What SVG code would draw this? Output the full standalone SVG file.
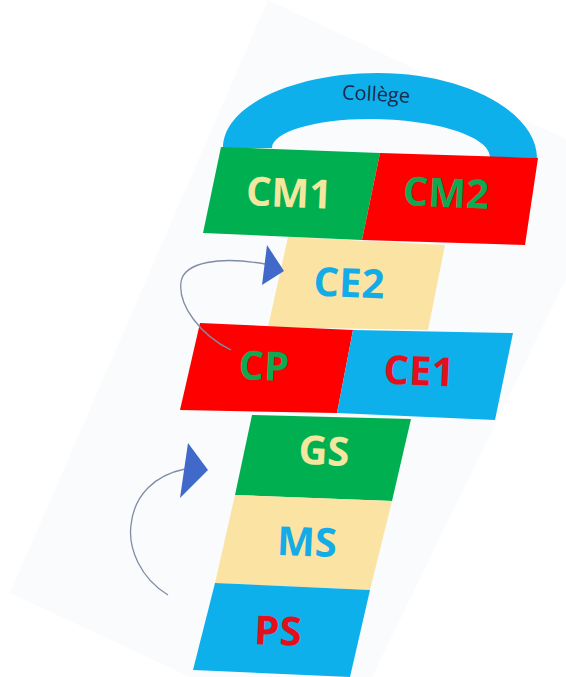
<svg xmlns="http://www.w3.org/2000/svg" width="566" height="677" viewBox="0 0 566 677">
<style>
.lbl{font-family:"Open Sans","Noto Sans","Liberation Sans",sans-serif;font-weight:700;font-size:40px;text-anchor:middle}
.green{fill:#00B050}.red{fill:#FF0000}.tan{fill:#FBE3A4}.blue{fill:#0EB0EC}
.t-tan{fill:#F3E7A0}.t-green{fill:#10A850}.t-blue{fill:#14ACE6}.t-red{fill:#E3101C}
.conn{fill:none;stroke:#7F8CA8;stroke-width:1.3}
.head{fill:#4169C9}
</style>
<rect width="566" height="677" fill="#ffffff"/>
<polygon points="268,0 566,139 566,279 372,677 190,677 10,593" fill="#fafbfc"/>
<g id="college">
<path class="blue" d="M223,148 C223,106 293,73 378,73 C465,73 537,112 537,158 L490,157 C490,137 437,119 369,119 C315,119 272,132 272,148 Z"/>
<text x="376" y="101" transform="rotate(3 376 95)" font-family="'Open Sans','Noto Sans','Liberation Sans',sans-serif" font-size="20" fill="#1B2A4A" text-anchor="middle">Collège</text>
</g>
<g id="ce2">
<polygon class="tan" points="288,237 445,245 428,330 268,327"/>
<text class="lbl t-blue" x="349" y="297" transform="rotate(2.5 349 283)">CE2</text>
</g>
<g id="cm1">
<polygon class="green" points="221,147 380,153 362,240 203,233"/>
<text class="lbl t-tan" x="289" y="207" transform="rotate(2.5 289 193)">CM1</text>
</g>
<g id="cm2">
<polygon class="red" points="380,153 538,158 525,245 362,240"/>
<text class="lbl t-green" x="446" y="207" transform="rotate(2.5 446 193)">CM2</text>
</g>
<g id="gs">
<polygon class="green" points="252,415 411,419 392,501 235,495"/>
<text class="lbl t-tan" x="324" y="465" transform="rotate(2.5 324 451)">GS</text>
</g>
<g id="cp">
<polygon class="red" points="200,323 353,330 337,413 180,410"/>
<text class="lbl t-green" x="264" y="380" transform="rotate(2.5 264 366)">CP</text>
</g>
<g id="ce1">
<polygon class="blue" points="353,330 513,333 495,420 337,413"/>
<text class="lbl t-red" x="419" y="385" transform="rotate(2.5 419 371)">CE1</text>
</g>
<g id="ms">
<polygon class="tan" points="235,495 392,501 370,590 215,583"/>
<text class="lbl t-blue" x="307" y="556" transform="rotate(2.5 307 542)">MS</text>
</g>
<g id="ps">
<polygon class="blue" points="215,583 370,590 350,677 193,670"/>
<text class="lbl t-red" x="278" y="645" transform="rotate(2.5 278 631)">PS</text>
</g>
<g id="connectors">
<path class="conn" d="M231,350 C200,335 178,305 181,282 C184,262 220,256 265,264"/>
<polygon class="head" points="267,245 284,271 262,285"/>
<path class="conn" d="M168,595 C140,578 128,548 131,525 C134,495 155,475 185,469"/>
<polygon class="head" points="188,443 208,470 180,498"/>
</g>
</svg>
